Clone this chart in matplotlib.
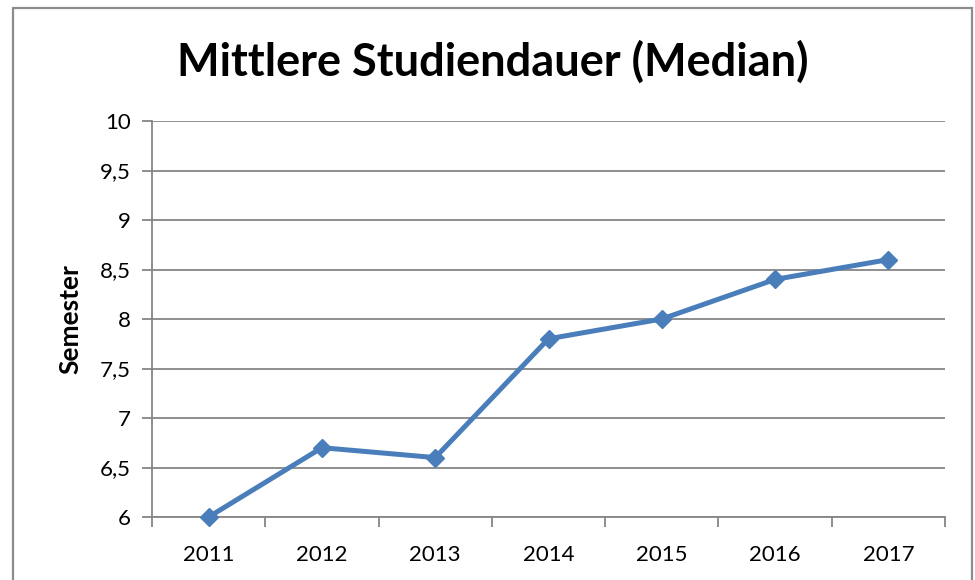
import matplotlib
matplotlib.use("Agg")
import matplotlib.pyplot as plt
from matplotlib.patches import Rectangle
from matplotlib.ticker import FixedLocator, FuncFormatter

# Daten
jahre = ["2011", "2012", "2013", "2014", "2015", "2016", "2017"]
semester = [6.0, 6.7, 6.6, 7.8, 8.0, 8.4, 8.6]
y_ticks = [6, 6.5, 7, 7.5, 8, 8.5, 9, 9.5, 10]

plt.rcParams['font.family'] = ['Lato', 'DejaVu Sans']

fig = plt.figure(figsize=(9.75, 5.8), dpi=100)
ax = fig.add_axes([152/975, 1-517/580, (945-152)/975, (517-121)/580])

# Rahmen ums Diagramm
fig.patches.append(Rectangle((13/975, -0.05), (972-13)/975, 1.05-8/580,
                             transform=fig.transFigure, fill=False,
                             edgecolor="#8c8c8c", lw=1.6))

x = list(range(len(jahre)))
ax.plot(x, semester, color="#4a7ebb", lw=3.6, marker="D", markersize=9.5,
        markeredgecolor="#4a7ebb", zorder=3, clip_on=False)

ax.set_xlim(-0.5, len(jahre)-0.5)
ax.set_ylim(6, 10)
ax.yaxis.set_major_locator(FixedLocator(y_ticks))
ax.yaxis.set_major_formatter(FuncFormatter(lambda v, p: ("%g" % v).replace(".", ",")))
ax.grid(axis="y", color="#868686", lw=1.3)
ax.set_axisbelow(True)

ax.set_xticks(x)
ax.set_xticklabels(jahre)
ax.set_xticks([i-0.5 for i in range(len(jahre)+1)], minor=True)
ax.tick_params(axis="x", which="major", length=0, pad=20, labelsize=16)
ax.tick_params(axis="x", which="minor", length=7, width=1.3, color="#868686")
ax.tick_params(axis="y", length=7, width=1.3, color="#868686", pad=8, labelsize=16)

for s in ["top", "right"]:
    ax.spines[s].set_visible(False)
for s in ["left", "bottom"]:
    ax.spines[s].set_color("#868686")
    ax.spines[s].set_linewidth(1.3)

ax.set_ylabel("Semester", fontsize=19, fontweight="bold", labelpad=13)
fig.text(493/975, 1-62/580, "Mittlere Studiendauer (Median)", ha="center",
         va="center", fontsize=32.5, fontweight="bold")

fig.savefig("out.png", dpi=100)
